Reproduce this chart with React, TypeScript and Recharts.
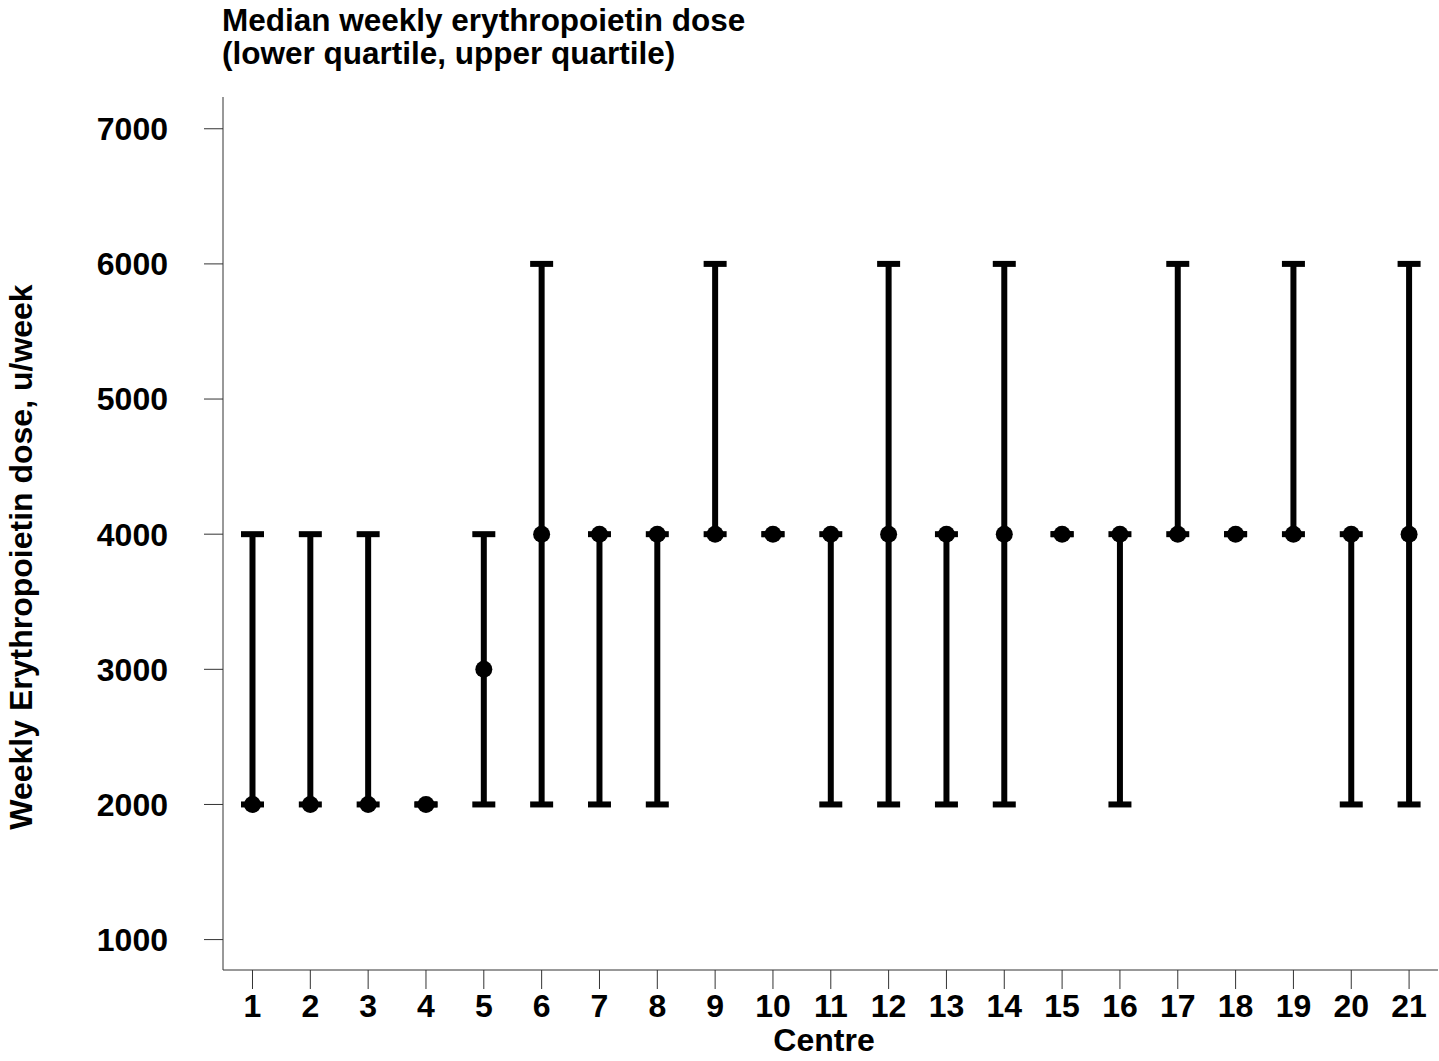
import React from 'react';
import { ScatterChart, Scatter, XAxis, YAxis, ErrorBar } from 'recharts';

// Centre numbers and the weekly EPO dose summaries (u/week)
const centres = [1, 2, 3, 4, 5, 6, 7, 8, 9, 10, 11, 12, 13, 14, 15, 16, 17, 18, 19, 20, 21];
const medianDose = [2000, 2000, 2000, 2000, 3000, 4000, 4000, 4000, 4000, 4000, 4000, 4000, 4000, 4000, 4000, 4000, 4000, 4000, 4000, 4000, 4000];
const lowerQuartile = [2000, 2000, 2000, 2000, 2000, 2000, 2000, 2000, 4000, 4000, 2000, 2000, 2000, 2000, 4000, 2000, 4000, 4000, 4000, 2000, 2000];
const upperQuartile = [4000, 4000, 4000, 2000, 4000, 6000, 4000, 4000, 6000, 4000, 4000, 6000, 4000, 6000, 4000, 4000, 6000, 4000, 6000, 4000, 6000];
const yTicks = [1000, 2000, 3000, 4000, 5000, 6000, 7000];

const FONT = '"Liberation Sans", Arial, Helvetica, sans-serif';

const data = centres.map((c, i) => ({
  centre: c,
  median: medianDose[i],
  // asymmetric error: [below, above]
  iqr: [medianDose[i] - lowerQuartile[i], upperQuartile[i] - medianDose[i]],
}));

const tickStyle = { fill: '#000', fontSize: 32, fontWeight: 'bold', fontFamily: FONT };

const Dot = (props: any) => <circle cx={props.cx} cy={props.cy} r={8.5} fill="#000" />;

export default function App() {
  return (
    <div style={{ position: 'absolute', left: 0, top: 0, width: 1439, height: 1061, background: '#fff', fontFamily: FONT }}>
      <div style={{ position: 'absolute', left: 222, top: 4, fontSize: 31.5, lineHeight: '33px', fontWeight: 'bold', color: '#000' }}>
        <div>Median weekly erythropoietin dose</div>
        <div>(lower quartile, upper quartile)</div>
      </div>
      <div
        style={{
          position: 'absolute', left: 21, top: 557, fontSize: 32, lineHeight: '32px', fontWeight: 'bold',
          whiteSpace: 'nowrap', transform: 'translate(-50%, -50%) rotate(-90deg)', color: '#000',
        }}
      >
        Weekly Erythropoietin dose, u/week
      </div>
      <div
        style={{
          position: 'absolute', left: 824, top: 1027, fontSize: 32, lineHeight: '26px', fontWeight: 'bold',
          transform: 'translateX(-50%)', color: '#000',
        }}
      >
        Centre
      </div>
      <ScatterChart width={1439} height={1061} margin={{ top: 97, right: 1, left: 0, bottom: 0 }}>
        <XAxis
          type="number"
          dataKey="centre"
          domain={[0.49, 21.5]}
          ticks={centres}
          interval={0}
          allowDataOverflow
          height={91}
          tickSize={19}
          tickMargin={5}
          tick={tickStyle}
          axisLine={{ stroke: '#333', strokeWidth: 1 }}
          tickLine={{ stroke: '#333', strokeWidth: 1 }}
        />
        <YAxis
          type="number"
          dataKey="median"
          domain={[775, 7235]}
          ticks={yTicks}
          interval={0}
          allowDataOverflow
          width={223}
          tickSize={19}
          tickMargin={36}
          tick={tickStyle}
          axisLine={{ stroke: '#333', strokeWidth: 1 }}
          tickLine={{ stroke: '#333', strokeWidth: 1 }}
        />
        <Scatter data={data} dataKey="median" shape={Dot} isAnimationActive={false}>
          <ErrorBar dataKey="iqr" direction="y" width={11.5} stroke="#000" strokeWidth={6} isAnimationActive={false} />
        </Scatter>
      </ScatterChart>
    </div>
  );
}
